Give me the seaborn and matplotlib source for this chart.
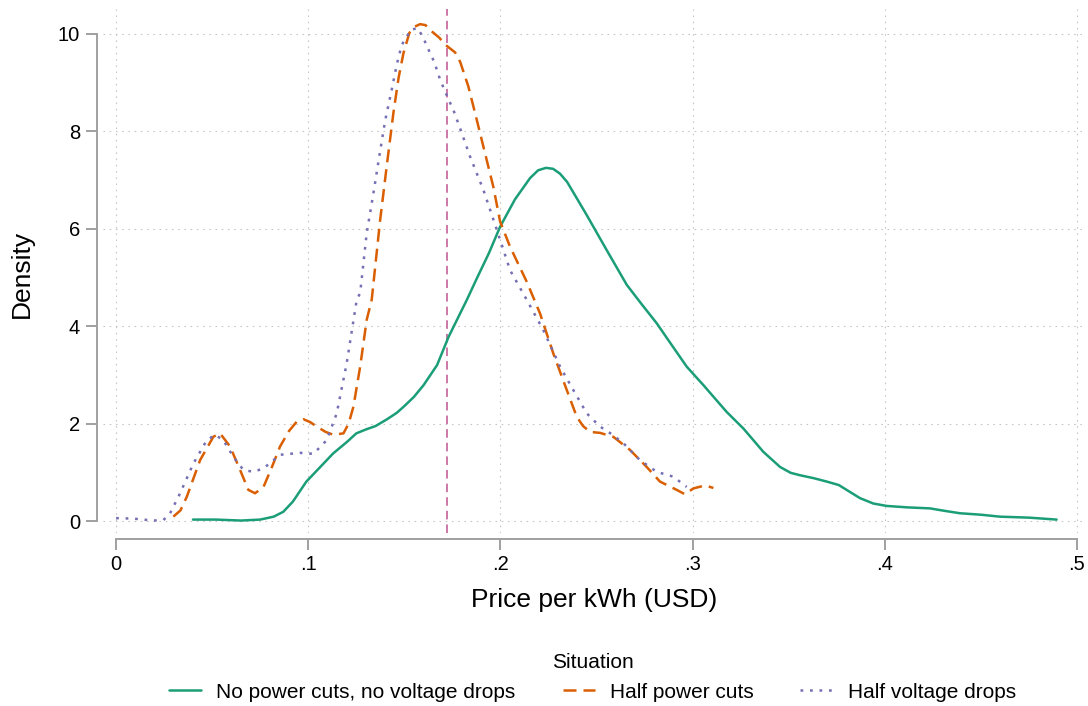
import matplotlib
matplotlib.use("Agg")
import matplotlib.pyplot as plt
from matplotlib.lines import Line2D
import numpy as np
import pandas as pd
import seaborn as sns

# Kernel density estimates of price per kWh, by supply situation
no_cuts_x = [0.040, 0.052, 0.065, 0.075, 0.082, 0.087, 0.092, 0.099, 0.106, 0.113,
             0.120, 0.125, 0.130, 0.135, 0.141, 0.146, 0.150, 0.155, 0.160, 0.167,
             0.173, 0.1825, 0.1877, 0.194, 0.1998, 0.2075, 0.2154, 0.2196, 0.2237,
             0.2274, 0.231, 0.2347, 0.2449, 0.2553, 0.2657, 0.2735, 0.2813, 0.2890,
             0.2969, 0.3056, 0.3177, 0.3264, 0.3368, 0.3455, 0.3510, 0.3559, 0.3630,
             0.3698, 0.3760, 0.3871, 0.3940, 0.4010, 0.4120, 0.4235, 0.4310, 0.4391,
             0.4500, 0.4599, 0.4750, 0.4894]
no_cuts_y = [0.03, 0.03, 0.01, 0.03, 0.09, 0.19, 0.40, 0.81, 1.10, 1.39,
             1.62, 1.80, 1.88, 1.95, 2.09, 2.22, 2.36, 2.55, 2.79, 3.20,
             3.78, 4.54, 4.98, 5.50, 6.04, 6.60, 7.04, 7.20, 7.25,
             7.23, 7.13, 6.96, 6.28, 5.56, 4.85, 4.45, 4.06, 3.62,
             3.17, 2.79, 2.24, 1.90, 1.42, 1.11, 0.99, 0.94, 0.88,
             0.81, 0.74, 0.47, 0.36, 0.31, 0.28, 0.26, 0.21, 0.16,
             0.13, 0.09, 0.07, 0.03]

half_cuts_x = [0.0298, 0.0335, 0.0368, 0.0437, 0.0506, 0.0541, 0.0593, 0.0645, 0.0688,
               0.0723, 0.0767, 0.0810, 0.0853, 0.0900, 0.0940, 0.0975, 0.1010, 0.1044,
               0.1090, 0.1131, 0.1183, 0.1210, 0.1235, 0.1270, 0.1304, 0.1330, 0.1374,
               0.1408, 0.1443, 0.1470, 0.1495, 0.1526, 0.1555, 0.1582, 0.1610, 0.1640,
               0.1682, 0.1712, 0.1764, 0.1790, 0.1833, 0.1877, 0.1894, 0.1963, 0.1998,
               0.2050, 0.2137, 0.2206, 0.2275, 0.2345, 0.2397, 0.2430, 0.2466, 0.2518,
               0.2587, 0.2674, 0.2761, 0.2830, 0.2917, 0.2960, 0.3004, 0.3064, 0.3108]
half_cuts_y = [0.09, 0.22, 0.50, 1.25, 1.73, 1.80, 1.53, 1.05, 0.64,
               0.57, 0.70, 1.10, 1.53, 1.85, 2.04, 2.09, 2.03, 1.94,
               1.83, 1.77, 1.80, 2.00, 2.35, 3.17, 4.13, 4.54, 6.18,
               7.28, 8.38, 9.10, 9.60, 10.02, 10.15, 10.20, 10.18, 10.06,
               9.92, 9.78, 9.62, 9.43, 8.92, 8.23, 7.96, 6.86, 6.15,
               5.63, 4.91, 4.26, 3.44, 2.69, 2.14, 1.95, 1.83, 1.81,
               1.73, 1.46, 1.11, 0.81, 0.64, 0.55, 0.67, 0.73, 0.68]

half_drops_x = [0.000, 0.009, 0.0194, 0.0246, 0.0281, 0.0333, 0.0402, 0.0472, 0.0515,
                0.0558, 0.0610, 0.0662, 0.0714, 0.0767, 0.0853, 0.0957, 0.1027, 0.1096,
                0.1148, 0.1200, 0.1252, 0.1270, 0.1304, 0.1339, 0.1370, 0.1400, 0.1434,
                0.1460, 0.1486, 0.1533, 0.1568, 0.1590, 0.1616, 0.1634, 0.1655, 0.1686,
                0.1729, 0.1755, 0.1790, 0.1842, 0.1911, 0.1981, 0.2050, 0.2137, 0.2223,
                0.2310, 0.2379, 0.2449, 0.2518, 0.2580, 0.2639, 0.2726, 0.2813, 0.2900,
                0.2969]
half_drops_y = [0.06, 0.05, 0.01, 0.02, 0.16, 0.57, 1.18, 1.66, 1.77,
                1.66, 1.32, 1.05, 1.01, 1.08, 1.36, 1.40, 1.38, 1.66,
                2.21, 3.24, 4.54, 4.68, 5.91, 6.73, 7.50, 8.22, 8.85,
                9.36, 9.77, 10.08, 10.12, 9.98, 9.77, 9.60, 9.43, 9.06,
                8.66, 8.44, 8.06, 7.48, 6.80, 5.98, 5.15, 4.54, 3.92,
                3.17, 2.69, 2.21, 1.94, 1.78, 1.60, 1.25, 1.01, 0.91,
                0.70]

situations = ["No power cuts, no voltage drops", "Half power cuts", "Half voltage drops"]
mean_price = 0.172

x_ticks = [0, 0.1, 0.2, 0.3, 0.4, 0.5]
x_tick_labels = ["0", ".1", ".2", ".3", ".4", ".5"]
y_ticks = [0, 2, 4, 6, 8, 10]

frames = []
for name, xs, ys in zip(situations,
                        [no_cuts_x, half_cuts_x, half_drops_x],
                        [no_cuts_y, half_cuts_y, half_drops_y]):
    frames.append(pd.DataFrame({"price": xs, "density": ys, "situation": name}))
df = pd.concat(frames, ignore_index=True)

sns.set_style("white")
plt.rcParams["font.family"] = ["Liberation Sans", "DejaVu Sans"]
plt.rcParams["text.color"] = "black"
plt.rcParams["axes.labelcolor"] = "black"

colors = {situations[0]: "#1b9e77", situations[1]: "#d95f02", situations[2]: "#7570b3"}
dashes = {situations[0]: "", situations[1]: (5.2, 2.8), situations[2]: (1.1, 2.7)}

fig = plt.figure(figsize=(10.88, 7.06), dpi=100)
ax = fig.add_axes([0.0947, 0.2450, 0.9026, 0.7422])

sns.lineplot(data=df, x="price", y="density", hue="situation", style="situation",
             hue_order=situations, style_order=situations, palette=colors,
             dashes=dashes, sort=False, estimator=None, linewidth=1.8,
             legend=False, ax=ax)

ax.axvline(mean_price, color="#cc79a7", linewidth=1.4, linestyle=(0, (4.4, 2.6)), zorder=1)

ax.set_xlim(-0.0068, 0.5042)
ax.set_ylim(-0.246, 10.51)
ax.set_xticks(x_ticks)
ax.set_xticklabels(x_tick_labels)
ax.set_yticks(y_ticks)
ax.set_yticklabels([str(v) for v in y_ticks])

ax.grid(True, color="#c4c4c4", linewidth=0.8, linestyle=(0, (1.4, 4.2)))
ax.set_axisbelow(True)

for side in ["top", "right"]:
    ax.spines[side].set_visible(False)
for side in ["left", "bottom"]:
    ax.spines[side].set_color("#a0a0a0")
    ax.spines[side].set_linewidth(1.4)
    ax.spines[side].set_position(("outward", 4.3))
ax.spines["bottom"].set_bounds(0, 0.5)
ax.spines["left"].set_bounds(0, 10)

ax.tick_params(axis="both", which="major", bottom=True, left=True, direction="out",
               length=8, width=1.4, color="#a0a0a0", labelsize=14.5, labelcolor="black")
ax.tick_params(axis="x", pad=3.5)
ax.tick_params(axis="y", pad=4.3)

ax.set_xlabel("Price per kWh (USD)", fontsize=19, color="black")
ax.set_ylabel("Density", fontsize=19, color="black")
ax.xaxis.set_label_coords(0.5, -0.128)
ax.xaxis.label.set_va("center")
ax.yaxis.set_label_coords(-0.0825, 0.494)
ax.yaxis.label.set_va("center")

handles = [Line2D([], [], color=colors[s], linewidth=1.8,
                  linestyle=(0, dashes[s]) if dashes[s] else "-") for s in situations]
leg = fig.legend(handles, situations, title="Situation", loc="upper center",
                 bbox_to_anchor=(0.5446, 0.0747), ncol=3, frameon=False, fontsize=15,
                 title_fontsize=15, handlelength=1.55, handletextpad=0.72,
                 columnspacing=2.25, borderpad=0, borderaxespad=0)
for t in leg.get_texts():
    t.set_color("black")
leg.get_title().set_color("black")

fig.savefig("out.png", dpi=100)
